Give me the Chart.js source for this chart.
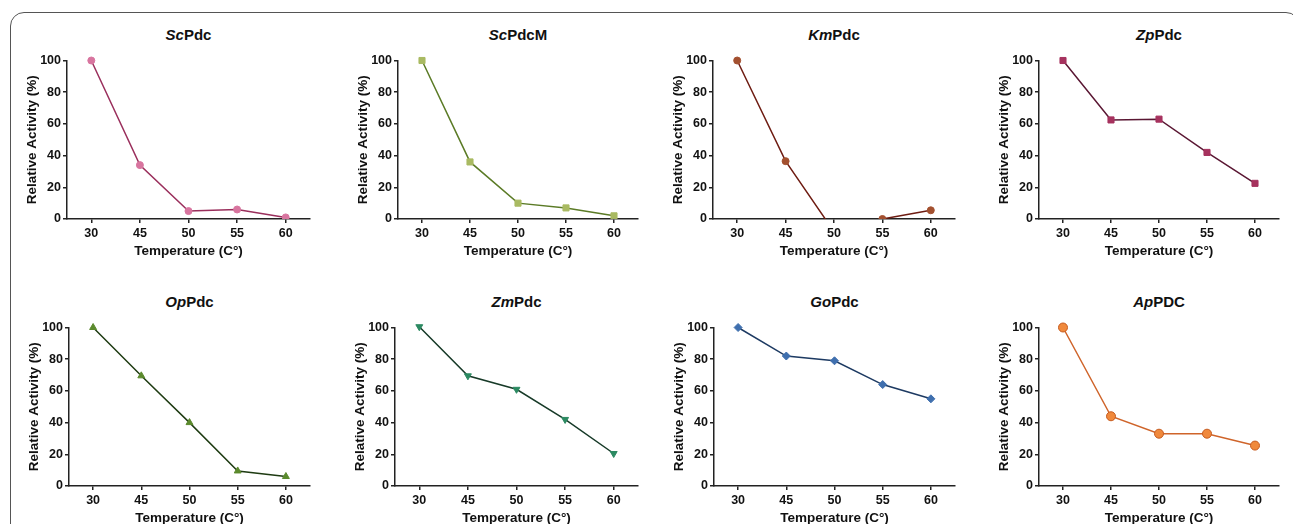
<!DOCTYPE html>
<html>
<head>
<meta charset="utf-8">
<script src="https://cdn.jsdelivr.net/npm/chart.js@4"></script>
<style>
  body { margin: 0; background: #fff; width: 1293px; height: 524px; overflow: hidden; position: relative; font-family: "Liberation Sans", Arial, sans-serif; }
  .frame { position: absolute; left: 10px; top: 12px; width: 1290px; height: 600px; border: 1.5px solid #555; border-radius: 14px; box-sizing: border-box; }
  .panel { position: absolute; }
  .title { position: absolute; text-align: center; font-weight: bold; font-size: 15px; line-height: 18px; color: #111; }
</style>
</head>
<body>
<div class="frame"></div>
<script>
const temps = ['30', '45', '50', '55', '60'];
const scPdc = [100, 34, 5, 6, 1];
const scPdcM = [100, 36, 10, 7, 2];
const kmPdc = [100, 36.5, -8, 0, 5.5];
const zpPdc = [100, 62.5, 63, 42, 22.5];
const opPdc = [100, 69.5, 40, 9.5, 6];
const zmPdc = [100.5, 69.5, 61, 42, 20.5];
const goPdc = [100, 82, 79, 64, 55];
const apPdc = [100, 44, 33, 33, 25.5];

const yTitle = 'Relative Activity (%)';
const xTitle = 'Temperature (C\u00b0)';

const FONT = '"Liberation Sans", Arial, sans-serif';
const AXIS = '#222';
const yW = 48, xH = 40, padTop = 8, padRight = 8, plotH = 160;

// area = [left, right, top] of the plotting box in page pixels
const panels = [
  { it: 'Sc', rest: 'Pdc', data: scPdc, fill: '#d8759f', border: '#d8759f', line: '#9a2f5c', style: 'circle', r: 3.5, area: [67, 310, 59] },
  { it: 'Sc', rest: 'PdcM', data: scPdcM, fill: '#a9ba62', border: '#a9ba62', line: '#5b7b26', style: 'rect', r: 4.3, area: [398, 638, 59] },
  { it: 'Km', rest: 'Pdc', data: kmPdc, fill: '#a3502f', border: '#a3502f', line: '#6e1c12', style: 'circle', r: 3.5, area: [713, 955, 59] },
  { it: 'Zp', rest: 'Pdc', data: zpPdc, fill: '#a6325e', border: '#a6325e', line: '#5a1733', style: 'rect', r: 4.3, area: [1039, 1279, 59] },
  { it: 'Op', rest: 'Pdc', data: opPdc, fill: '#5b8a2d', border: '#5b8a2d', line: '#1e3b12', style: 'triangle', r: 4, area: [69, 310, 326] },
  { it: 'Zm', rest: 'Pdc', data: zmPdc, fill: '#2c8a62', border: '#2c8a62', line: '#173a28', style: 'triangle', r: 4, rot: 180, area: [395, 638, 326] },
  { it: 'Go', rest: 'Pdc', data: goPdc, fill: '#3f6fae', border: '#3f6fae', line: '#1d3a62', style: 'rectRot', r: 4, area: [714, 955, 326] },
  { it: 'Ap', rest: 'PDC', data: apPdc, fill: '#f0893c', border: '#c65b1f', line: '#cf642a', style: 'circle', r: 4.5, area: [1039, 1279, 326] }
];

panels.forEach(p => {
  const [left, right, top] = p.area;

  const title = document.createElement('div');
  title.className = 'title';
  title.style.left = left + 'px';
  title.style.width = (right - left) + 'px';
  title.style.top = (top - 33) + 'px';
  title.innerHTML = '<i>' + p.it + '</i>' + p.rest;
  document.body.appendChild(title);

  const box = document.createElement('div');
  box.className = 'panel';
  const w = yW + (right - left) + padRight;
  const h = padTop + plotH + xH;
  box.style.left = (left - yW) + 'px';
  box.style.top = (top - padTop) + 'px';
  box.style.width = w + 'px';
  box.style.height = h + 'px';
  const canvas = document.createElement('canvas');
  box.appendChild(canvas);
  document.body.appendChild(box);

  new Chart(canvas.getContext('2d'), {
    type: 'line',
    data: {
      labels: temps,
      datasets: [{
        data: p.data,
        borderColor: p.line,
        borderWidth: 1.5,
        backgroundColor: p.fill,
        pointBackgroundColor: p.fill,
        pointBorderColor: p.border,
        pointBorderWidth: 1,
        pointStyle: p.style,
        pointRadius: p.r,
        pointRotation: p.rot || 0,
        tension: 0,
        clip: { left: 10, right: 10, top: 10, bottom: 0 }
      }]
    },
    options: {
      responsive: true,
      maintainAspectRatio: false,
      animation: false,
      layout: { padding: { top: padTop, right: padRight, left: 0, bottom: 0 } },
      plugins: { legend: { display: false }, tooltip: { enabled: false } },
      scales: {
        x: {
          type: 'category',
          offset: true,
          afterFit: s => { s.height = xH; },
          grid: { drawOnChartArea: false, drawTicks: true, tickLength: 4, color: AXIS, lineWidth: 1.5, offset: false },
          border: { color: AXIS, width: 1.5 },
          ticks: { color: '#111', padding: 3, maxRotation: 0, font: { family: FONT, size: 12.5, weight: 'bold' } },
          title: { display: true, text: xTitle, color: '#111', padding: { top: 0, bottom: 0 }, font: { family: FONT, size: 13.5, weight: 'bold' } }
        },
        y: {
          min: 0,
          max: 100,
          afterFit: s => { s.width = yW; },
          grid: { drawOnChartArea: false, drawTicks: true, tickLength: 4, color: AXIS, lineWidth: 1.5 },
          border: { color: AXIS, width: 1.5 },
          ticks: { stepSize: 20, color: '#111', padding: 2, font: { family: FONT, size: 12.5, weight: 'bold' } },
          title: { display: true, text: yTitle, color: '#111', padding: { top: 5, bottom: 0 }, font: { family: FONT, size: 13.5, weight: 'bold' } }
        }
      }
    }
  });
});
</script>
</body>
</html>
